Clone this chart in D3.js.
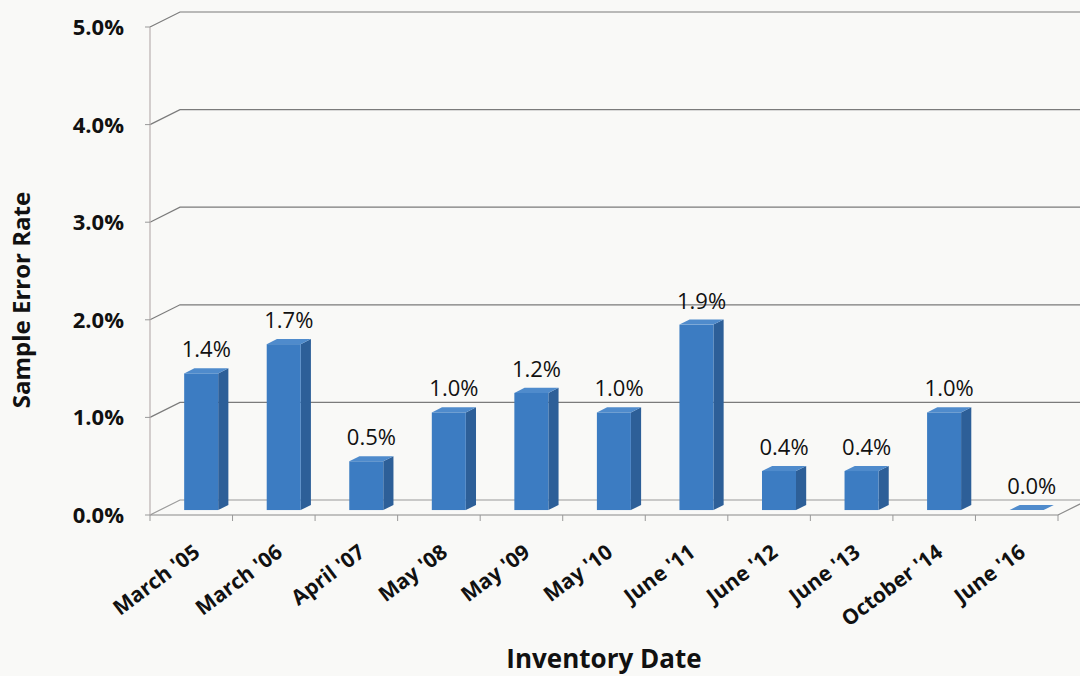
<!DOCTYPE html>
<html lang="en">
<meta charset="utf-8">
<title>Sample Error Rate</title>
<head>
<style>
  body { margin: 0; background: #f9f9f7; }
  svg { display: block; }
  text { font-family: "Open Sans", "Noto Sans", sans-serif; fill: #111; }
</style>
</head>
<body>
  <script src="https://cdn.jsdelivr.net/npm/d3@7"></script>
  <div id="chart"></div>
  <script>

    // data
    var categories = ["March '05", "March '06", "April '07", "May '08", "May '09", "May '10",
      "June '11", "June '12", "June '13", "October '14", "June '16"];
    var rates = [1.4, 1.7, 0.5, 1.0, 1.2, 1.0, 1.9, 0.4, 0.4, 1.0, 0.0];
    var yTicks = [0, 1, 2, 3, 4, 5];

    var W = 1080, H = 676;
    // 3d depth of the floor / wall
    var depth = { dx: 30, dy: -15 };

    var svg = d3.select("#chart")
      .append("svg")
      .attr("width", W)
      .attr("height", H);

    var x = d3.scaleBand()
      .domain(categories)
      .range([150, 1058]);

    var y = d3.scaleLinear()
      .domain([0, 5])
      .range([515, 27]);

    var grid = svg.append("g");

    // left wall + back wall gridlines
    yTicks.forEach(function (t) {
      grid.append("path")
        .attr("d", "M150," + y(t) + " L" + (150 + depth.dx) + "," + (y(t) + depth.dy) + " L" + W + "," + (y(t) + depth.dy))
        .attr("fill", "none")
        .attr("stroke", t == 0 ? "#9a9a9a" : "#7b7b7b")
        .attr("stroke-width", 1.2);
    });

    // floor front edge and right edge
    var x0 = x.range()[0], x1 = x.range()[1];
    grid.append("path")
      .attr("d", "M" + x0 + "," + y(0) + " L" + x1 + "," + y(0) + " L" + (x1 + depth.dx) + "," + (y(0) + depth.dy))
      .attr("fill", "none")
      .attr("stroke", "#8a8a8a")
      .attr("stroke-width", 1.2);

    // vertical axis line
    grid.append("line")
      .attr("x1", 150).attr("x2", 150)
      .attr("y1", y(5)).attr("y2", y(0))
      .attr("stroke", "#b9b0b0")
      .attr("stroke-width", 1.2);

    // y tick marks and labels
    var yAxis = svg.append("g");
    yTicks.forEach(function (t) {
      yAxis.append("line")
        .attr("x1", 145).attr("x2", 150)
        .attr("y1", y(t)).attr("y2", y(t))
        .attr("stroke", "#999");
      yAxis.append("text")
        .attr("x", 124)
        .attr("y", y(t))
        .attr("dy", "0.36em")
        .attr("text-anchor", "end")
        .attr("font-size", 22)
        .attr("font-weight", 700)
        .text(t.toFixed(1) + "%");
    });

    // category tick marks on the floor edge
    var bounds = categories.map(function (c) { return x(c); }).concat([x1]);
    bounds.forEach(function (b) {
      grid.append("line")
        .attr("x1", b).attr("x2", b)
        .attr("y1", y(0)).attr("y2", y(0) + 6)
        .attr("stroke", "#999");
    });

    // bars: front, side, top faces
    var bw = 34;
    var dFront = 0.33, dBack = 0.67;
    var bars = svg.append("g");
    categories.forEach(function (c, i) {
      var v = rates[i];
      var cx = x(c) + x.bandwidth() / 2;
      var fx = cx - bw / 2 + depth.dx * dFront;
      var fy0 = y(0) + depth.dy * dFront;
      var top = y(v) + depth.dy * dFront;
      var ox = depth.dx * (dBack - dFront), oy = depth.dy * (dBack - dFront);

      if (v > 0) {
        // side
        bars.append("path")
          .attr("d", "M" + (fx + bw) + "," + fy0 + " L" + (fx + bw) + "," + top +
            " L" + (fx + bw + ox) + "," + (top + oy) + " L" + (fx + bw + ox) + "," + (fy0 + oy) + "Z")
          .attr("fill", "#2d5f98");
        // front
        bars.append("rect")
          .attr("x", fx).attr("y", top)
          .attr("width", bw).attr("height", fy0 - top)
          .attr("fill", "#3c7cc2");
      }
      // top
      bars.append("path")
        .attr("d", "M" + fx + "," + top + " L" + (fx + bw) + "," + top +
          " L" + (fx + bw + ox) + "," + (top + oy) + " L" + (fx + ox) + "," + (top + oy) + "Z")
        .attr("fill", "#4f8bcc");

      // value label
      bars.append("text")
        .attr("x", fx + (bw + ox) / 2)
        .attr("y", top - 16)
        .attr("text-anchor", "middle")
        .attr("font-size", 22)
        .attr("font-weight", 500)
        .text(v.toFixed(1) + "%");
    });

    // x labels, rotated
    categories.forEach(function (c) {
      var cx = x(c) + x.bandwidth() / 2;
      svg.append("text")
        .attr("transform", "translate(" + (cx + 10) + ",555) rotate(-37)")
        .attr("text-anchor", "end")
        .attr("font-size", 21)
        .attr("font-weight", 700)
        .text(c);
    });

    // axis titles
    svg.append("text")
      .attr("transform", "translate(30,300) rotate(-90)")
      .attr("text-anchor", "middle")
      .attr("font-size", 24)
      .attr("font-weight", 700)
      .text("Sample Error Rate");

    svg.append("text")
      .attr("x", 604)
      .attr("y", 668)
      .attr("text-anchor", "middle")
      .attr("font-size", 26)
      .attr("font-weight", 700)
      .text("Inventory Date");

  </script>
</body>
</html>
